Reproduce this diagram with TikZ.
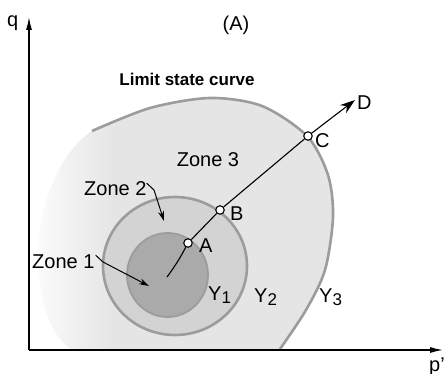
\documentclass[tikz,border=0pt]{standalone}
\usepackage{fontspec}
\setmainfont{Liberation Sans}
\usetikzlibrary{arrows.meta}
\definecolor{zthree}{HTML}{E5E5E5}
\definecolor{ztwo}{HTML}{D3D3D3}
\definecolor{zone}{HTML}{AAAAAA}
\definecolor{rim}{HTML}{9C9C9C}
\pgfdeclarehorizontalshading{zfade}{100bp}{color(0bp)=(white); color(25bp)=(white!85!zthree); color(31bp)=(white!45!zthree); color(38bp)=(zthree); color(100bp)=(zthree)}
\tikzset{
  lbl/.style={inner sep=0pt, font=\fontsize{20}{23}\selectfont},
  boldlbl/.style={inner sep=0pt, font=\fontsize{17}{20}\selectfont\bfseries},
  marker/.style={circle, draw=black, fill=white, line width=1.1pt, minimum size=8.5pt, inner sep=0pt},
  rimline/.style={draw=rim, line width=2.6pt},
  axis/.style={line width=1.3pt, -{Latex[length=13pt,width=6pt]}},
  pointer/.style={line width=1pt, -{Stealth[length=10pt,width=6pt]}},
  pathline/.style={line width=1.1pt},
}
\newcommand{\subY}[1]{Y\raisebox{-0.35ex}{\fontsize{17}{19}\selectfont #1}}
\begin{document}
\begin{tikzpicture}[x=1pt,y=-1pt]
\useasboundingbox (0,0) rectangle (444,374);
% zone 3 region
\path[shading=zfade] plot[smooth] coordinates {(92,131) (150,108) (210,98) (262,106) (307,136) (328,175) (333,217) (325,270) (306,310) (280,349)}
  -- (70,349) .. controls (46,330) and (37,290) .. (38,250) .. controls (40,200) and (62,150) .. (92,131);
% limit state curve
\draw[rimline] plot[smooth] coordinates {(92,131) (150,108) (210,98) (262,106) (307,136) (328,175) (333,217) (325,270) (306,310) (280,349)};
% zone 2
\filldraw[rimline, fill=ztwo] (175,266) ellipse[x radius=72, y radius=69];
% zone 1
\filldraw[draw=rim, line width=1.8pt, fill=zone] (167.5,275) ellipse[x radius=40.5, y radius=42];
% axes
\coordinate (O) at (29,350);
\coordinate (Qtip) at (29,17);
\coordinate (Ptip) at (443,350);
\draw[axis] (O) -- (Qtip);
\draw[axis] (O) -- (Ptip);
\node[lbl, anchor=base west] (q) at (7,27) {q};
\node[lbl, anchor=base west] (p) at (429,371) {p'};
\node[lbl, anchor=base] (title) at (236,31) {(A)};
\node[boldlbl, anchor=base] (limit) at (187,86) {Limit state curve};
% stress path
\node[marker] (A) at (188,243) {};
\node[marker] (B) at (220,210) {};
\node[marker] (C) at (308,136) {};
\coordinate (S) at (167,277);
\coordinate (D) at (355,100);
\draw[pathline] (S) to[bend right=4] (A);
\draw[pathline] (A) -- (B);
\draw[pathline] (B) -- (C);
\draw[pathline, -{Stealth[length=15pt,width=10pt]}] (C) -- (D);
\node[lbl, anchor=base west] (Alab) at (199,252) {A};
\node[lbl, anchor=base west] (Blab) at (230,220) {B};
\node[lbl, anchor=base west] (Clab) at (315,148) {C};
\node[lbl, anchor=base west] (Dlab) at (357,110) {D};
% zone labels
\node[lbl, anchor=base] (z3) at (208,167) {Zone 3};
\node[lbl, anchor=base west] (z2) at (84,195) {Zone 2};
\node[lbl, anchor=base west] (z1) at (32,268) {Zone 1};
\coordinate (z2a) at (154,190);
\coordinate (z2t) at (164,221);
\coordinate (z1a) at (103,262);
\coordinate (z1t) at (149,286);
\draw[pointer] (z2.east) ++(0,-5) -- (z2a) -- (z2t);
\draw[pointer] (z1.east) ++(1,-6) -- (z1a) -- (z1t);
% yield surfaces
\node[lbl, anchor=base west] (y1) at (208,300) {\subY{1}};
\node[lbl, anchor=base west] (y2) at (254,302) {\subY{2}};
\node[lbl, anchor=base west] (y3) at (319,302) {\subY{3}};
\end{tikzpicture}
\end{document}
